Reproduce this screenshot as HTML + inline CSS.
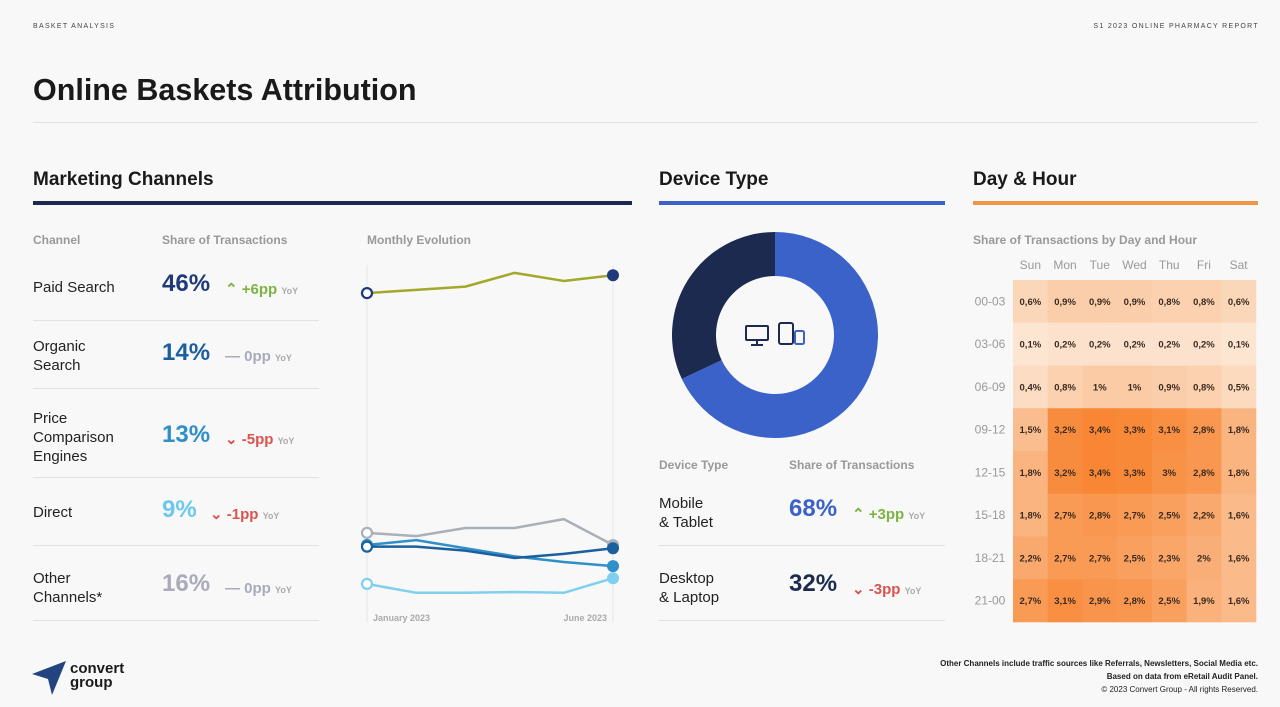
<!DOCTYPE html>
<html><head><meta charset="utf-8">
<style>
*{margin:0;padding:0;box-sizing:border-box}
body{width:1280px;height:707px;background:#f8f8f9;font-family:"Liberation Sans",sans-serif;position:relative;overflow:hidden;color:#222}
.a{position:absolute}
.sm{font-size:7px;letter-spacing:1.3px;color:#444}
.h2{font-size:19px;font-weight:bold;color:#1a1a1a}
.lab{font-size:12px;color:#999;font-weight:bold}
.ch{font-size:15px;color:#222;line-height:19px}
.pct{font-size:24px;font-weight:bold}
.d{font-size:15px;font-weight:bold}
.yoy{font-size:9px;color:#aaa}
.sep{height:1px;background:#e2e2e2}
</style></head><body>
<div class="a sm" style="left:33px;top:23px">BASKET ANALYSIS</div>
<div class="a sm" style="right:21px;top:23px">S1 2023 ONLINE PHARMACY REPORT</div>
<div class="a" style="left:33px;top:73px;font-size:30.5px;font-weight:bold;color:#1a1a1a">Online Baskets Attribution</div>
<div class="a sep" style="left:33px;top:122px;width:1225px"></div>

<div class="a h2" style="left:33px;top:169px">Marketing Channels</div>
<div class="a" style="left:33px;top:201px;width:599px;height:4px;background:#1b2a4e"></div>
<div class="a h2" style="left:659px;top:169px">Device Type</div>
<div class="a" style="left:659px;top:201px;width:286px;height:4px;background:#3a62c9"></div>
<div class="a h2" style="left:973px;top:169px">Day &amp; Hour</div>
<div class="a" style="left:973px;top:201px;width:285px;height:4px;background:#f0944a"></div>

<div class="a lab" style="left:33px;top:233px">Channel</div>
<div class="a lab" style="left:162px;top:233px">Share of Transactions</div>
<div class="a lab" style="left:367px;top:233px">Monthly Evolution</div>

<div class="a ch" style="left:33px;top:278px">Paid Search</div>
<div class="a pct" style="left:162px;top:270px;color:#1f3a7a">46%</div>
<div class="a d" style="left:225px;top:280px;color:#7cb342">⌃ +6pp <span class="yoy">YoY</span></div>
<div class="a sep" style="left:33px;top:320px;width:286px"></div>

<div class="a ch" style="left:33px;top:337px">Organic<br>Search</div>
<div class="a pct" style="left:162px;top:339px;color:#1b5f9e">14%</div>
<div class="a d" style="left:225px;top:348px;color:#aab">— 0pp <span class="yoy">YoY</span></div>
<div class="a sep" style="left:33px;top:388px;width:286px"></div>

<div class="a ch" style="left:33px;top:409px">Price<br>Comparison<br>Engines</div>
<div class="a pct" style="left:162px;top:421px;color:#2f8fc8">13%</div>
<div class="a d" style="left:225px;top:430px;color:#d9534f">⌄ -5pp <span class="yoy">YoY</span></div>
<div class="a sep" style="left:33px;top:477px;width:286px"></div>

<div class="a ch" style="left:33px;top:503px">Direct</div>
<div class="a pct" style="left:162px;top:496px;color:#6cc8ec">9%</div>
<div class="a d" style="left:210px;top:505px;color:#d9534f">⌄ -1pp <span class="yoy">YoY</span></div>
<div class="a sep" style="left:33px;top:545px;width:286px"></div>

<div class="a ch" style="left:33px;top:569px">Other<br>Channels*</div>
<div class="a pct" style="left:162px;top:570px;color:#aab">16%</div>
<div class="a d" style="left:225px;top:580px;color:#aab">— 0pp <span class="yoy">YoY</span></div>
<div class="a sep" style="left:33px;top:620px;width:286px"></div>

<svg class="a" id="lc" style="left:0;top:0" width="1280" height="707"></svg>

<div class="a lab" style="left:659px;top:458px">Device Type</div>
<div class="a lab" style="left:789px;top:458px">Share of Transactions</div>
<div class="a ch" style="left:659px;top:494px">Mobile<br>&amp; Tablet</div>
<div class="a pct" style="left:789px;top:495px;color:#3a62c9">68%</div>
<div class="a d" style="left:852px;top:505px;color:#7cb342">⌃ +3pp <span class="yoy">YoY</span></div>
<div class="a sep" style="left:659px;top:545px;width:286px"></div>
<div class="a ch" style="left:659px;top:569px">Desktop<br>&amp; Laptop</div>
<div class="a pct" style="left:789px;top:570px;color:#1b2a4e">32%</div>
<div class="a d" style="left:852px;top:580px;color:#d9534f">⌄ -3pp <span class="yoy">YoY</span></div>
<div class="a sep" style="left:659px;top:620px;width:286px"></div>

<div class="a lab" style="left:973px;top:233px">Share of Transactions by Day and Hour</div>

<div class="a" style="right:22px;top:657px;font-size:8px;font-weight:bold;text-align:right;line-height:13px;color:#222">Other Channels include traffic sources like Referrals, Newsletters, Social Media etc.<br>Based on data from eRetail Audit Panel.<br><span style="font-weight:normal">© 2023 Convert Group - All rights Reserved.</span></div>
<svg class="a" style="left:32px;top:660px" width="36" height="36"><polygon points="0,14 34,1 20,35 16,19" fill="#24447f"/></svg>
<div class="a" style="left:70px;top:662px;font-size:15px;font-weight:bold;line-height:14px;color:#1a1a1a">convert<br>group</div>

<script>
const months=["January 2023","Feb","Mar","Apr","May","June 2023"];
const paidSearch=[45.0,45.4,45.8,47.5,46.5,47.2];
const otherCh=[15.4,15.0,16.0,16.0,17.1,13.9];
const organic=[13.7,13.7,13.2,12.3,12.8,13.5];
const priceComp=[13.9,14.5,13.5,12.5,11.8,11.3];
const direct=[9.1,8.0,8.0,8.1,8.0,9.8];
const deviceShares=[68,32];
const days=["Sun","Mon","Tue","Wed","Thu","Fri","Sat"];
const hours=["00-03","03-06","06-09","09-12","12-15","15-18","18-21","21-00"];
const heat=[[0.6,0.9,0.9,0.9,0.8,0.8,0.6],[0.1,0.2,0.2,0.2,0.2,0.2,0.1],[0.4,0.8,1,1,0.9,0.8,0.5],[1.5,3.2,3.4,3.3,3.1,2.8,1.8],[1.8,3.2,3.4,3.3,3,2.8,1.8],[1.8,2.7,2.8,2.7,2.5,2.2,1.6],[2.2,2.7,2.7,2.5,2.3,2,1.6],[2.7,3.1,2.9,2.8,2.5,1.9,1.6]];

const NS="http://www.w3.org/2000/svg";
const svg=document.getElementById('lc');
function mk(t,a,p){const e=document.createElementNS(NS,t);for(const k in a)e.setAttribute(k,a[k]);(p||svg).appendChild(e);return e;}
const xS=i=>367+i*(613-367)/(months.length-1);
const yS=v=>285+(46-v)*8.1;
[0,months.length-1].forEach(i=>{const l=mk('line',{x1:xS(i),x2:xS(i),y1:265,y2:622,stroke:'#e3e6ec','stroke-width':1});

});
[[0,'start'],[months.length-1,'end']].forEach(([i,an])=>{const t=mk('text',{x:i==0?xS(i)+6:xS(i)-6,y:621,'font-size':9,'font-weight':'bold',fill:'#aaa','text-anchor':an,'font-family':'Liberation Sans'});t.textContent=months[i];

});
const series=[[paidSearch,'#a3a72a','#1f3a7a','paid-search'],[otherCh,'#aab0b8','#aab0b8','other-channels'],[priceComp,'#2f8fc8','#2f8fc8','price-comparison'],[organic,'#1b5f9e','#1b5f9e','organic-search'],[direct,'#7fd0ef','#7fd0ef','direct']];
series.forEach(([d,c,mc,n])=>{
  const p=mk('polyline',{points:d.map((v,i)=>xS(i)+','+yS(v)).join(' '),fill:'none',stroke:c,'stroke-width':2.5,'stroke-linejoin':'round'});
  
  
  const s=mk('circle',{cx:xS(0),cy:yS(d[0]),r:5,fill:'#fff',stroke:mc,'stroke-width':2.2});
  
  
  const e=mk('circle',{cx:xS(d.length-1),cy:yS(d[d.length-1]),r:6,fill:mc});
  
  
});
const cx=775,cy=335,R=103,r=59;
let a0=-Math.PI/2;
const dcol=['#3a62c9','#1b2a4e'],dn=['mobile-slice','desktop-slice'];
const tot=deviceShares.reduce((a,b)=>a+b,0);
deviceShares.forEach((v,i)=>{
  const a1=a0+v/tot*2*Math.PI,lg=(a1-a0)>Math.PI?1:0;
  const P=(rad,a)=>(cx+rad*Math.cos(a))+','+(cy+rad*Math.sin(a));
  const s=mk('path',{d:`M${P(R,a0)} A${R},${R} 0 ${lg} 1 ${P(R,a1)} L${P(r,a1)} A${r},${r} 0 ${lg} 0 ${P(r,a0)}Z`,fill:dcol[i]});
  
  
  a0=a1;
});
const ic=mk('g',{fill:'none',stroke:'#1b2a4e','stroke-width':2});


mk('rect',{x:746,y:326,width:22,height:14,rx:1},ic);mk('line',{x1:757,y1:340,x2:757,y2:345},ic);mk('line',{x1:751,y1:345,x2:763,y2:345},ic);
mk('rect',{x:779,y:323,width:14,height:21,rx:2},ic);mk('rect',{x:795,y:331,width:9,height:13,rx:1.5,stroke:'#3a62c9'},ic);
const hx0=1013,hy0=280,cw=(1256-1013)/7,chh=(622-280)/8;
const mx=Math.max(...heat.flat());
const lo=[252,232,214],hi=[248,134,52];
days.forEach((d,j)=>{const t=mk('text',{x:hx0+cw*j+cw/2,y:269,'font-size':12,fill:'#999','text-anchor':'middle','font-family':'Liberation Sans'});t.textContent=d;

});
hours.forEach((h,i)=>{
  const t=mk('text',{x:990,y:hy0+chh*i+chh/2+4,'font-size':12,fill:'#999','text-anchor':'middle','font-family':'Liberation Sans'});t.textContent=h;
  
  
  heat[i].forEach((v,j)=>{
    const f=v/mx,c=lo.map((l,k)=>Math.round(l+(hi[k]-l)*f));
    const cell=mk('rect',{x:hx0+cw*j,y:hy0+chh*i,width:cw+0.3,height:chh+0.3,fill:`rgb(${c})`});
    
    
    const tx=mk('text',{x:hx0+cw*j+cw/2,y:hy0+chh*i+chh/2+3.5,'font-size':9.5,'font-weight':'bold',fill:'#3a2a20','text-anchor':'middle','font-family':'Liberation Sans'});
    tx.textContent=String(v).replace('.',',')+'%';
    
    
  });
});
</script>
</body></html>
